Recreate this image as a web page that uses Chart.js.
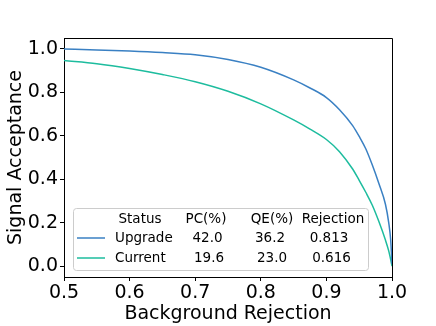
<!DOCTYPE html>
<html lang="en">
<head>
    <meta charset="UTF-8">
    <title>Signal Acceptance vs Background Rejection</title>
    <script src="https://cdn.jsdelivr.net/npm/chart.js"></script>
    <style>
        html, body { margin: 0; padding: 0; background: #fff; }
        #wrap { width: 436px; height: 326px; }
    </style>
</head>
<body>
    <div id="wrap"><canvas id="roc" width="436" height="326"></canvas></div>
    <script>
        // background rejection (x) and signal acceptance for each detector status
        const rejection = [0.5, 0.55, 0.6, 0.65, 0.7, 0.75, 0.8, 0.85, 0.875, 0.9, 0.92, 0.94, 0.95, 0.96, 0.97, 0.98, 0.99, 0.995, 0.998, 1.0];
        const upgrade   = [0.999, 0.995, 0.99, 0.983, 0.973, 0.951, 0.915, 0.857, 0.82, 0.776, 0.72, 0.647, 0.597, 0.54, 0.465, 0.38, 0.285, 0.2, 0.12, 0.01];
        const current   = [0.946, 0.932, 0.91, 0.882, 0.849, 0.805, 0.747, 0.673, 0.631, 0.583, 0.527, 0.447, 0.395, 0.34, 0.28, 0.205, 0.12, 0.07, 0.03, 0.0];

        const xTicks = [0.5, 0.6, 0.7, 0.8, 0.9, 1.0];
        const yTicks = [0.0, 0.2, 0.4, 0.6, 0.8, 1.0];

        // legend table
        const tableHeader = ['Status', 'PC(%)', 'QE(%)', 'Rejection'];
        const tableRows = [
            ['Upgrade', '42.0', '36.2', '0.813'],
            ['Current', '19.6', '23.0', '0.616']
        ];

        const blue = '#3a80c3';
        const teal = '#1dbc9e';
        const font = 'DejaVu Sans';

        const toPoints = ys => rejection.map((x, i) => ({ x: x, y: ys[i] }));

        // frame on top/right + table legend drawn inside the plot
        const framePlugin = {
            id: 'frame',
            afterDraw(chart) {
                const { ctx, chartArea: a } = chart;
                ctx.save();
                ctx.strokeStyle = '#000';
                ctx.lineWidth = 1;
                ctx.beginPath();
                ctx.moveTo(a.left, a.top + 0.5);
                ctx.lineTo(a.right + 0.5, a.top + 0.5);
                ctx.lineTo(a.right + 0.5, a.bottom);
                ctx.stroke();

                // legend box
                const bx = 73, by = 208, bw = 295, bh = 62, r = 3;
                ctx.fillStyle = 'rgba(255,255,255,0.8)';
                ctx.strokeStyle = '#cccccc';
                ctx.beginPath();
                ctx.roundRect(bx + 0.5, by + 0.5, bw, bh, r);
                ctx.fill();
                ctx.stroke();

                ctx.font = '13.5px "' + font + '"';
                ctx.fillStyle = '#000';
                ctx.textBaseline = 'middle';
                ctx.textAlign = 'center';
                const colX = [140, 206, 272, 333];
                tableHeader.forEach((t, i) => ctx.fillText(t, colX[i], 219));

                const rowY = [238, 258];
                const rowColors = [blue, teal];
                const valX = [[207.5, 270, 329], [209, 272, 331.5]];
                tableRows.forEach((row, j) => {
                    ctx.strokeStyle = rowColors[j];
                    ctx.lineWidth = 1.5;
                    ctx.beginPath();
                    ctx.moveTo(77, rowY[j]);
                    ctx.lineTo(105, rowY[j]);
                    ctx.stroke();
                    ctx.textAlign = 'left';
                    ctx.fillText(row[0], 115, rowY[j]);
                    ctx.textAlign = 'center';
                    for (let k = 1; k < row.length; k++) {
                        ctx.fillText(row[k], valX[j][k - 1], rowY[j]);
                    }
                });
                ctx.restore();
            }
        };

        const axisCommon = {
            type: 'linear',
            grid: { drawOnChartArea: false, drawTicks: true, tickLength: 4, tickColor: '#000' },
            border: { display: true, color: '#000', width: 1 }
        };

        new Chart(document.getElementById('roc'), {
            type: 'line',
            data: {
                datasets: [
                    { label: 'Upgrade', data: toPoints(upgrade), borderColor: blue, borderWidth: 1.5, pointRadius: 0, cubicInterpolationMode: 'monotone', fill: false },
                    { label: 'Current', data: toPoints(current), borderColor: teal, borderWidth: 1.5, pointRadius: 0, cubicInterpolationMode: 'monotone', fill: false }
                ]
            },
            options: {
                responsive: false,
                animation: false,
                layout: { padding: { top: 38, right: 44, left: 0, bottom: 0 } },
                plugins: { legend: { display: false }, tooltip: { enabled: false } },
                scales: {
                    x: Object.assign({}, axisCommon, {
                        min: 0.5, max: 1.0,
                        afterBuildTicks: s => { s.ticks = xTicks.map(v => ({ value: v })); },
                        afterFit: s => { s.height = 49; },
                        ticks: { color: '#000', padding: 1, maxRotation: 0, font: { family: font, size: 19 }, callback: v => v.toFixed(1) },
                        title: { display: true, text: 'Background Rejection', color: '#000', font: { family: font, size: 19 }, padding: { top: 0, bottom: 1 } }
                    }),
                    y: Object.assign({}, axisCommon, {
                        min: -0.05, max: 1.05,
                        afterBuildTicks: s => { s.ticks = yTicks.map(v => ({ value: v })); },
                        afterFit: s => { s.width = 64; },
                        ticks: { color: '#000', padding: 2, font: { family: font, size: 19 }, callback: v => v.toFixed(1) },
                        title: { display: true, text: 'Signal Acceptance', color: '#000', font: { family: font, size: 19 }, padding: { top: 5, bottom: 0 } }
                    })
                }
            },
            plugins: [framePlugin]
        });
    </script>
</body>
</html>
